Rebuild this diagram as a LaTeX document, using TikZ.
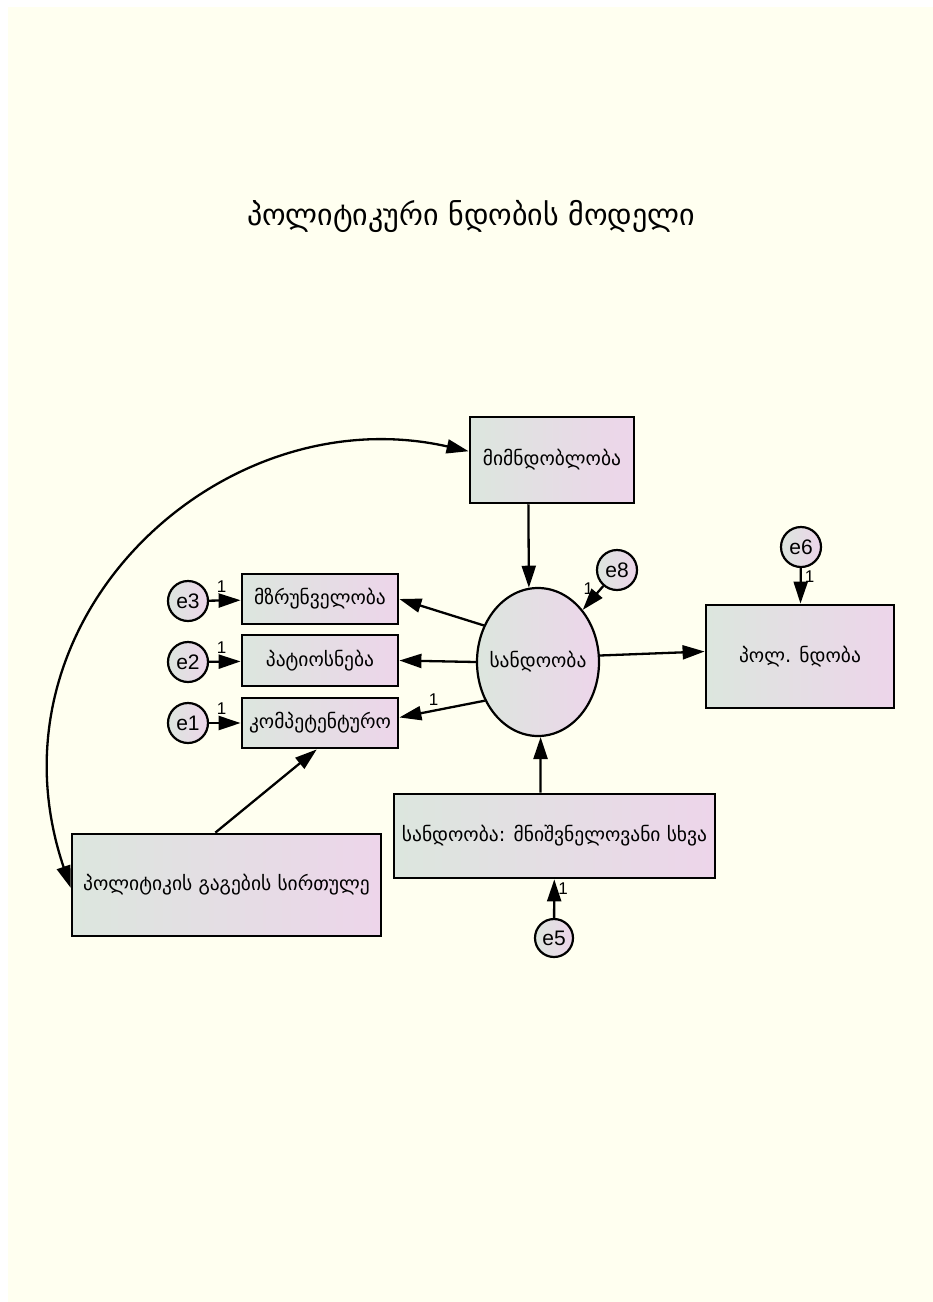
\documentclass[tikz,border=0pt]{standalone}
\usepackage{fontspec}
\usepackage{tikz}
\usetikzlibrary{arrows.meta,shapes.geometric}
\newfontfamily\geofont{DejaVu Sans}
\newfontfamily\latfont{Liberation Sans}
\definecolor{paper}{HTML}{FFFFF0}
\definecolor{shadeL}{HTML}{DCE6DE}
\definecolor{shadeR}{HTML}{EDD5EA}
\tikzset{
  varbox/.style={draw, line width=2.8pt, left color=shadeL, right color=shadeR, inner sep=0pt, font=\geofont\fontsize{19.5}{23}\selectfont},
  latent/.style={ellipse, draw, line width=2.2pt, left color=shadeL, right color=shadeR, inner sep=0pt, font=\geofont\fontsize{19.5}{23}\selectfont},
  errc/.style={circle, draw, line width=2.2pt, minimum size=40pt, inner sep=0pt, left color=shadeL, right color=shadeR, font=\latfont\fontsize{21}{24}\selectfont},
  arr/.style={-{Triangle[length=22pt,width=14pt]}, line width=2.3pt},
  arrtwo/.style={{Triangle[length=22pt,width=14pt]}-{Triangle[length=22pt,width=14pt]}, line width=2.3pt},
  one/.style={font=\latfont\fontsize{17}{18}\selectfont, inner sep=1pt}
}

\begin{document}
\begin{tikzpicture}[x=1pt,y=-1pt]
  \useasboundingbox (0,0) rectangle (933,1302);
  \fill[white] (0,0) rectangle (933,1302);
  \fill[paper] (8,7) rectangle (933,1302);

  \draw (471,216) node[font=\geofont\fontsize{30}{34}\selectfont] (title) {პოლიტიკური ნდობის მოდელი};

  \draw (552,460) node[varbox, minimum width=164pt, minimum height=86pt] (mimn) {მიმნდობლობა};
    \draw (320,599) node[varbox, minimum width=156pt, minimum height=50pt] (mzr) {მზრუნველობა};
    \draw (320,660.5) node[varbox, minimum width=156pt, minimum height=51pt] (pat) {პატიოსნება};
    \draw (320,723) node[varbox, minimum width=156pt, minimum height=50pt] (komp) {კომპეტენტურო};
  \draw (538,662) node[latent, minimum width=122pt, minimum height=148pt] (sand) {\makebox[0pt]{სანდოობა}};
  \draw (800,656.5) node[varbox, minimum width=188pt, minimum height=103pt] (pol) {პოლ. ნდობა};
  \draw (226.5,885) node[varbox, minimum width=309pt, minimum height=102pt] (polit) {პოლიტიკის გაგების სირთულე};
  \draw (554.5,836) node[varbox, minimum width=321pt, minimum height=84pt] (sandm) {სანდოობა: მნიშვნელოვანი სხვა};

    \draw (188,601) node[errc] (e3) {e3};
    \draw (188,662) node[errc] (e2) {e2};
    \draw (188,723) node[errc] (e1) {e1};
    \draw (617,570) node[errc] (e8) {e8};
    \draw (801,547) node[errc] (e6) {e6};
    \draw (554,938) node[errc, minimum size=38pt] (e5) {e5};

    \path[arr] (mimn.242) edge (sand.97);
    \path[arr] (sand.146) edge (mzr.east);
    \path[arr] (sand.west) edge (pat.east);
    \path[arr] (sand.216) edge node[one, pos=0.6, above=3pt] {1} (komp.4);
    \path[arr] (sand.6) edge (pol.177);
    \path[arr] (sandm.108) edge (sand.272);
    \path[arr] (polit.102) edge (komp.263);
      \path[arr] (e3) edge node[one, pos=0.4, above=6pt] {1} (mzr);
      \path[arr] (e2) edge node[one, pos=0.4, above=6pt] {1} (pat);
      \path[arr] (e1) edge node[one, pos=0.4, above=6pt] {1} (komp);
      \path[arr] (e8) edge node[one, pos=0.1, left=6pt] {1} (sand);
      \path[arr] (e6) edge node[one, pos=0.25, right=2pt] {1} (pol);
      \path[arr] (e5) edge node[one, pos=0.75, right=2pt] {1} (sandm);
    \draw[arrtwo] (polit.181) .. controls (-20,620) and (220,395) .. (mimn.174);

\end{tikzpicture}
\end{document}
